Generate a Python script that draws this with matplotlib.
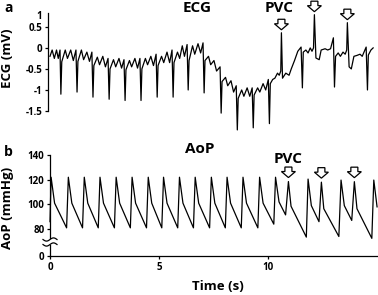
import numpy as np
import matplotlib
import matplotlib.pyplot as plt
from matplotlib.lines import Line2D
from matplotlib.patches import Polygon, Rectangle
from matplotlib.transforms import IdentityTransform

plt.rcParams["font.family"] = ["Open Sans", "DejaVu Sans"]
plt.rcParams["font.weight"] = "bold"

# ---------------- DATA ----------------

# ECG trace, time (s) and voltage (mV)
ecg_t = [
    0.00, 0.10, 0.20, 0.30, 0.38, 0.46, 0.50,
    0.54, 0.70, 0.80, 0.95, 1.07, 1.19, 1.24,
    1.28, 1.44, 1.54, 1.69, 1.81, 1.92, 1.97,
    2.01, 2.17, 2.27, 2.42, 2.54, 2.66, 2.71,
    2.75, 2.91, 3.01, 3.16, 3.28, 3.39, 3.44,
    3.48, 3.64, 3.74, 3.89, 4.01, 4.12, 4.17,
    4.21, 4.37, 4.47, 4.62, 4.74, 4.86, 4.91,
    4.95, 5.11, 5.21, 5.36, 5.48, 5.59, 5.64,
    5.68, 5.84, 5.94, 6.06, 6.16, 6.28, 6.33,
    6.37, 6.53, 6.63, 6.78, 6.90, 7.01, 7.06,
    7.10, 7.26, 7.36, 7.51, 7.63, 7.79, 7.84,
    7.88, 8.04, 8.14, 8.29, 8.41, 8.53, 8.58,
    8.62, 8.78, 8.88, 9.03, 9.15, 9.26, 9.31,
    9.35, 9.51, 9.61, 9.76, 9.88, 10.00, 10.05,
    10.09, 10.20, 10.30, 10.42, 10.50, 10.57, 10.60,
    10.65, 10.80, 10.95, 11.05, 11.20, 11.35, 11.50, 11.56,
    11.60, 11.72, 11.82, 11.92, 12.00, 12.07, 12.11,
    12.18, 12.33, 12.42, 12.60, 12.72, 12.85, 12.98, 13.03,
    13.08, 13.20, 13.30, 13.42, 13.52, 13.59, 13.62,
    13.70, 13.80, 13.92, 14.05, 14.20, 14.30, 14.48, 14.54,
    14.58, 14.70, 14.80,
]
ecg_mv = [
    -0.20, -0.05, -0.25, -0.05, -0.25, -0.05, -1.10,
    -0.33, -0.05, -0.25, -0.05, -0.30, -0.05, -1.05,
    -0.32, -0.05, -0.28, -0.10, -0.32, -0.10, -1.17,
    -0.42, -0.22, -0.40, -0.20, -0.45, -0.25, -1.22,
    -0.50, -0.28, -0.45, -0.25, -0.48, -0.28, -1.25,
    -0.52, -0.30, -0.45, -0.25, -0.48, -0.25, -1.25,
    -0.50, -0.25, -0.40, -0.20, -0.42, -0.15, -1.17,
    -0.42, -0.20, -0.35, -0.10, -0.35, -0.05, -1.17,
    -0.35, -0.10, -0.25, 0.05, -0.20, 0.08, -1.00,
    -0.30, 0.05, -0.15, 0.10, -0.12, 0.12, -1.07,
    -0.30, -0.20, -0.40, -0.30, -0.55, -0.45, -1.55,
    -0.80, -0.70, -0.90, -0.78, -1.05, -0.90, -1.95,
    -1.20, -1.00, -1.15, -0.95, -1.15, -0.95, -1.90,
    -1.12, -0.95, -1.05, -0.85, -1.00, -0.75, -1.80,
    -0.85, -0.75, -0.72, -0.60, -0.65, -0.55, 0.36,
    -0.72, -0.60, -0.65, -0.50, -0.30, -0.08, 0.02, -0.95,
    -0.10, -0.05, -0.12, 0.00, -0.08, 0.00, 0.79,
    -0.24, -0.28, -0.05, -0.02, -0.05, -0.02, 0.24, -0.93,
    -0.20, -0.12, -0.20, -0.10, -0.15, -0.05, 0.60,
    -0.45, -0.50, -0.20, -0.18, -0.15, -0.20, 0.02, -1.00,
    -0.17, -0.05, 0.00,
]

# PVC beats marked on the ECG
ecg_pvc_t = [10.60, 12.11, 13.62]
ecg_pvc_mv = [0.36, 0.79, 0.60]

# Aortic pressure trace, time (s) and pressure (mmHg)
aop_t = [
    0.00, 0.05, 0.21,
    0.76, 0.84, 1.00,
    1.49, 1.57, 1.73,
    2.21, 2.29, 2.45,
    2.95, 3.03, 3.19,
    3.68, 3.76, 3.92,
    4.42, 4.50, 4.66,
    5.12, 5.20, 5.36,
    5.85, 5.93, 6.09,
    6.57, 6.65, 6.81,
    7.31, 7.39, 7.55,
    8.03, 8.11, 8.27,
    8.76, 8.84, 9.00,
    9.52, 9.60, 9.76,
    10.25, 10.33, 10.49,
    10.79, 10.92, 11.04,
    11.74, 11.82, 11.97,
    12.32, 12.43, 12.54,
    13.23, 13.33, 13.48,
    13.82, 13.94, 14.06,
    14.74, 14.83, 14.98,
]
aop_mmhg = [
    86, 122, 101,
    81, 122, 101,
    81, 122, 101,
    81, 122, 101,
    81, 122, 101,
    81, 122, 101,
    81, 122, 101,
    81, 122, 101,
    81, 122, 101,
    81, 122, 101,
    81, 122, 101,
    81, 122, 101,
    81, 122, 101,
    81, 122, 101,
    84, 122, 102,
    91.5, 118.5, 98.5,
    73.5, 120.5, 99,
    86, 118, 96.5,
    74, 119.7, 99,
    87, 118.4, 96.5,
    72.5, 119.7, 98,
]

# PVC beats marked on the AoP
aop_pvc_t = [10.92, 12.43, 13.94]
aop_pvc_mmhg = [118.5, 118, 118.4]

ecg_ticks = [-1.5, -1, -0.5, 0, 0.5]
ecg_tick_labels = ["-1.5", "-1", "-0.5", "0", "0.5"]
aop_ticks = [80, 100, 120, 140]
time_ticks = [0, 5, 10]

# ---------------- FIGURE ----------------

W, H = 378, 295
fig = plt.figure(figsize=(W / 100, H / 100), dpi=100)


def fx(x):
    return x / W


def fy(y):
    return 1 - y / H


# the value where the broken AoP axis is cut (bottom labelled "0")
aop_floor = 58.2
ecg_top = 0.83

ax1 = fig.add_axes([fx(48), fy(111), fx(377.5) - fx(48), fy(13) - fy(111)])
ax2 = fig.add_axes([fx(50), fy(256), fx(377.5) - fx(50), fy(155) - fy(256)])

# ECG panel
ax1.plot(ecg_t, ecg_mv, color="black", lw=0.9, clip_on=False)
ax1.set_xlim(-0.09, 15)
ax1.set_ylim(-1.5, ecg_top)
ax1.set_yticks(ecg_ticks + [0.78], ecg_tick_labels + ["1"])
ax1.yaxis.get_major_ticks()[-1].tick1line.set_visible(False)
ax1.set_xticks([])
for s in ["top", "right", "bottom"]:
    ax1.spines[s].set_visible(False)

# AoP panel
ax2.plot(aop_t, aop_mmhg, color="black", lw=0.9, clip_on=False)
ax2.set_xlim(0, 15)
ax2.set_ylim(aop_floor, 140)
ax2.set_yticks([aop_floor] + aop_ticks, ["0"] + [str(v) for v in aop_ticks])
ax2.set_xticks(time_ticks, [str(v) for v in time_ticks])
for s in ["top", "right"]:
    ax2.spines[s].set_visible(False)

for ax in (ax1, ax2):
    ax.spines["left"].set_linewidth(0.9)
    ax.spines["bottom"].set_linewidth(0.9)
    ax.tick_params(direction="out", length=2.5, width=0.9, pad=1.5,
                   labelsize=7)
    for lab in ax.get_xticklabels() + ax.get_yticklabels():
        lab.set_fontweight("bold")

# Hollow down arrows over the PVC beats
def pvc_arrow(ax, t, v, gap):
    x, y = ax.transData.transform((t, v))
    y = y + gap
    pts = [(x, y), (x - 7, y + 6), (x - 3.5, y + 6), (x - 3.5, y + 10.5),
           (x + 3.5, y + 10.5), (x + 3.5, y + 6), (x + 7, y + 6)]
    fig.patches.append(Polygon(pts, closed=True, fc="white", ec="black",
                               lw=0.9, transform=IdentityTransform(),
                               figure=fig))


for t, v in zip(ecg_pvc_t, ecg_pvc_mv):
    pvc_arrow(ax1, t, v, 3)
for t, v in zip(aop_pvc_t, aop_pvc_mmhg):
    pvc_arrow(ax2, t, v, 4)

# axis break mark on the AoP y axis
fig.patches.append(Rectangle((fx(46), fy(244.5)), fx(8), fy(239.5) - fy(244.5),
                             fc="white", ec="none", transform=fig.transFigure,
                             figure=fig, zorder=5))
wx = np.linspace(-7, 7, 30)
for yc in (239.5, 244.5):
    fig.add_artist(Line2D(fx(50 + wx), fy(yc - 1.6 * np.sin(wx / 7 * np.pi)),
                          color="black", lw=0.9, transform=fig.transFigure,
                          zorder=6))

# Text
big = 11
fig.text(fx(9), fy(8), "a", fontsize=10, fontweight="bold", ha="center", va="center")
fig.text(fx(8), fy(152), "b", fontsize=10, fontweight="bold", ha="center", va="center")
fig.text(fx(197), fy(8), "ECG", fontsize=big, fontweight="bold", ha="center", va="center")
fig.text(fx(279), fy(8), "PVC", fontsize=big, fontweight="bold", ha="center", va="center")
fig.text(fx(200), fy(149), "AoP", fontsize=big, fontweight="bold", ha="center", va="center")
fig.text(fx(288), fy(159), "PVC", fontsize=big, fontweight="bold", ha="center", va="center")
fig.text(fx(8), fy(58), "ECG (mV)", fontsize=9.5, fontweight="bold", rotation=90,
         ha="center", va="center")
fig.text(fx(8), fy(208), "AoP (mmHg)", fontsize=9.5, fontweight="bold", rotation=90,
         ha="center", va="center")
fig.text(fx(218), fy(286), "Time (s)", fontsize=9.5, fontweight="bold",
         ha="center", va="center")

fig.savefig("out.png", dpi=100)
